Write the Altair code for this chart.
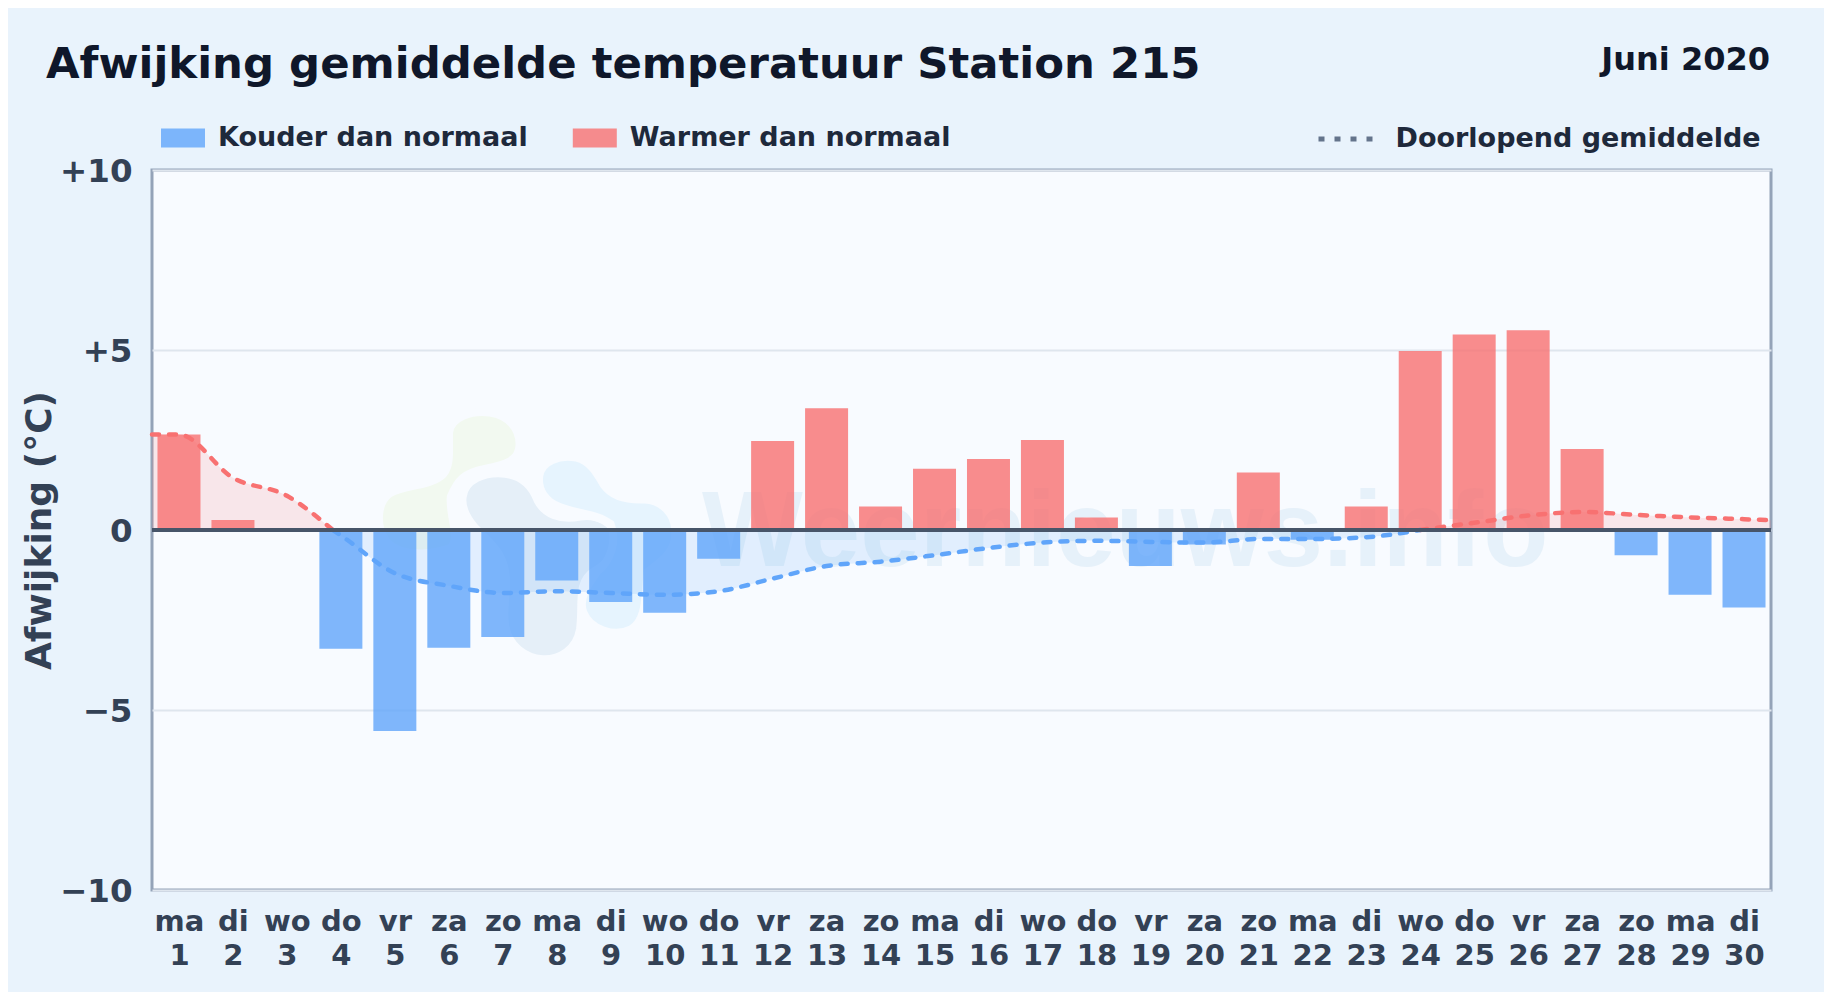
import altair as alt
import pandas as pd

FONT = "DejaVu Sans"
days = list(range(1, 31))
weekdays = ["ma","di","wo","do","vr","za","zo","ma","di","wo","do","vr","za","zo","ma",
            "di","wo","do","vr","za","zo","ma","di","wo","do","vr","za","zo","ma","di"]
deviation = [2.65,0.28,0.0,-3.3,-5.58,-3.27,-2.97,-1.4,-2.0,-2.3,-0.8,2.47,3.38,0.65,1.7,
             1.97,2.5,0.35,-1.0,-0.4,1.6,-0.27,0.65,4.97,5.43,5.55,2.25,-0.7,-1.8,-2.15]

warm1_x = [0.5,1,2,3,3.85]
warm1_y = [2.65,2.65,1.45,0.95,0.0]
cold_x = [3.85,4,5,6,7,8,9,10,11,12,13,14,15,16,17,18,19,20,21,22,23,24]
cold_y = [0.0,-0.15,-1.2,-1.55,-1.75,-1.7,-1.75,-1.8,-1.7,-1.35,-1.0,-0.88,-0.7,-0.5,-0.35,-0.3,-0.33,-0.35,-0.25,-0.25,-0.2,0.0]
warm2_x = [24,25,26,27,28,29,30,30.5]
warm2_y = [0.0,0.2,0.4,0.5,0.42,0.35,0.3,0.27]

LBL_COLD, LBL_WARM, LBL_AVG = "Kouder dan normaal", "Warmer dan normaal", "Doorlopend gemiddelde"
bars = pd.DataFrame({"day": days, "v": deviation})
bars = bars[bars.v != 0]
bars["kind"] = [LBL_WARM if v > 0 else LBL_COLD for v in bars.v]

warm = pd.concat([pd.DataFrame({"x": warm1_x, "y": warm1_y, "seg": "a"}),
                  pd.DataFrame({"x": warm2_x, "y": warm2_y, "seg": "b"})])
cold = pd.DataFrame({"x": cold_x, "y": cold_y})

names = "[" + ",".join(f"'{d}'" for d in weekdays) + "]"
xaxis = alt.Axis(values=days, title=None, grid=False, domain=False, ticks=False,
                 labelExpr=f"[{names}[datum.value-1], ''+datum.value]",
                 labelFont=FONT, labelFontWeight="bold", labelFontSize=29, labelColor="#334155",
                 labelAngle=0, labelPadding=17, labelLineHeight=34,
                 labelOverlap=False, labelBound=False, labelFlush=False)
yaxis = alt.Axis(values=[-10, -5, 0, 5, 10], title="Afwijking (°C)", grid=True,
                 gridColor="#dfe6ee", gridWidth=2, domain=False, ticks=False,
                 labelExpr="datum.value>0 ? '+'+datum.value : datum.value<0 ? '−'+abs(datum.value) : '0'",
                 labelFont=FONT, labelFontWeight="bold", labelFontSize=32.5, labelColor="#334155",
                 labelPadding=20, labelOffset=1.5, labelOverlap=False, labelBound=False, labelFlush=False,
                 titleFont=FONT, titleFontWeight="bold", titleFontSize=36, titleColor="#334155",
                 titleX=-94, titleY=360)
xscale = alt.Scale(domain=[0.5, 30.5], nice=False, zero=False, padding=0)
yscale = alt.Scale(domain=[-10, 10], nice=False, padding=0)
X = alt.X("x:Q", scale=xscale, axis=xaxis)
Y = alt.Y("y:Q", scale=yscale, axis=yaxis)

bar_layer = alt.Chart(bars).mark_bar(width=43, opacity=0.8).encode(
    x=alt.X("day:Q", scale=xscale, axis=xaxis),
    y=alt.Y("v:Q", stack=None, scale=yscale, axis=yaxis),
    fill=alt.Fill("kind:N", scale=alt.Scale(domain=[LBL_COLD, LBL_WARM], range=["#60a5fa", "#f87171"]),
                  legend=alt.Legend(title=None, orient="none", legendX=9, legendY=-54, direction="horizontal",
                                    symbolType="M-1,-0.43H1V0.43H-1Z", symbolSize=1936, symbolStrokeWidth=0,
                                    labelFont=FONT, labelFontWeight="bold", labelFontSize=27, labelColor="#1e293b",
                                    labelOffset=13, columnPadding=44.8, padding=0, labelLimit=500)),
)

warm_area = alt.Chart(warm).mark_area(interpolate="monotone", fill="#f87171", opacity=0.15).encode(
    x=X, y=Y, y2=alt.Y2(datum=0), detail="seg:N")
cold_area = alt.Chart(cold).mark_area(interpolate="monotone", fill="#60a5fa", opacity=0.15).encode(
    x=X, y=Y, y2=alt.Y2(datum=0))
dash = dict(interpolate="monotone", strokeWidth=4.5, strokeDash=[7, 10], strokeCap="round")
warm_line = alt.Chart(warm).mark_line(stroke="#f87171", **dash).encode(x=X, y=Y, detail="seg:N")
cold_line = alt.Chart(cold).mark_line(stroke="#60a5fa", **dash).encode(x=X, y=Y)

zero = alt.Chart(pd.DataFrame({"z": [0]})).mark_rule(color="#475569", strokeWidth=4).encode(
    y=alt.Y("z:Q", scale=yscale, axis=yaxis))

legend_only = alt.Chart(pd.DataFrame({"k": [LBL_AVG], "z": [0]})).mark_rule(opacity=0).encode(
    y=alt.Y("z:Q", scale=yscale, axis=yaxis),
    stroke=alt.Stroke("k:N", scale=alt.Scale(domain=[LBL_AVG], range=["#64748b"]),
                      legend=alt.Legend(title=None, orient="none", legendX=1164, legendY=-61,
                                        symbolType="stroke", symbolSize=3025, symbolDash=[6, 10], symbolOpacity=1,
                                        symbolStrokeWidth=5, labelFont=FONT, labelFontWeight="bold", labelFontSize=27,
                                        labelColor="#1e293b", labelOffset=19.5, padding=0, labelLimit=500)),
)

# watermark
wm_text = alt.Chart(pd.DataFrame({"t": ["Weernieuws.info"]})).mark_text(
    font="Liberation Sans", fontWeight="bold", fontSize=106.8, align="left", baseline="alphabetic", color="#2683c3", opacity=0.08
).encode(text="t:N", x=alt.value(550), y=alt.value(396))

blob_green = "M265,130C270,85 330,65 385,72C440,80 475,120 472,170C470,215 430,225 370,238C310,250 290,270 270,320C265,380 300,440 270,470C220,490 120,500 80,450C50,410 50,340 90,310C130,285 200,290 240,260C275,235 262,170 265,130Z"
blob_slate = "M305,320C310,270 370,245 430,252C480,258 510,290 525,330C545,370 590,390 650,378C700,370 750,395 755,440C760,480 740,510 690,540C640,570 660,640 650,710C640,770 590,800 540,798C490,795 440,760 430,700C420,640 440,600 430,540C420,480 380,450 340,410C315,380 300,350 305,320Z"
blob_sky = "M530,260C535,215 590,195 640,205C680,215 700,250 720,285C745,320 790,330 840,328C890,330 930,370 930,420C935,480 890,510 850,540C840,600 850,680 800,710C750,735 680,710 660,660C640,610 690,560 700,540C740,510 760,450 740,400C700,370 640,370 590,350C550,335 525,300 530,260Z"
blob_layers = []
for path, col in [(blob_green, "#f2f9f0"), (blob_slate, "#e5eff8"), (blob_sky, "#e6f4fe")]:
    blob_layers.append(
        alt.Chart(pd.DataFrame({"a": [0]})).mark_point(
            shape=path, size=0.4624, filled=True, fill=col, fillOpacity=1, stroke="#f8fbff", strokeWidth=8, strokeOpacity=1
        ).encode(x=alt.value(207), y=alt.value(218))
    )

juni = alt.Chart(pd.DataFrame({"t": ["Juni 2020"]})).mark_text(
    font=FONT, fontSize=32, fontWeight="bold", align="right", baseline="alphabetic", color="#0f172a"
).encode(text="t:N", x=alt.value(1618), y=alt.value(-100))

chart = alt.layer(
    *blob_layers, wm_text, warm_area, cold_area, bar_layer, warm_line, cold_line, zero, legend_only, juni
).resolve_scale(fill="independent", stroke="independent").properties(
    width=1619, height=720,
    padding={"left": 144, "top": 162, "right": 53, "bottom": 102},
    autosize=alt.AutoSizeParams(type="none"),
    background="#e9f3fc",
    title=alt.TitleParams("Afwijking gemiddelde temperatuur Station 215", anchor="start", frame="group",
                          dx=-106, offset=-43, font=FONT, fontSize=43.4, fontWeight="bold", color="#0f172a"),
).configure_view(fill="#f8fbff", stroke="#94a3b8", strokeWidth=3)

chart.save("out.html", embed_options={"renderer": "svg", "actions": False})
